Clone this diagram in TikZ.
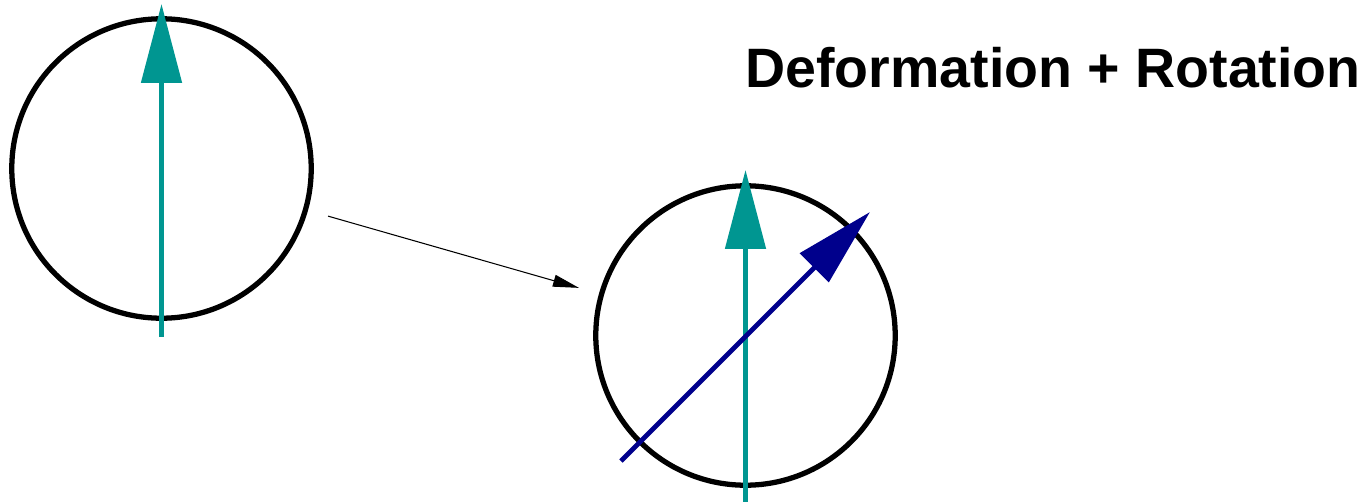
\documentclass[tikz,border=0pt]{standalone}
\usepackage{fontspec}
\setmainfont{Liberation Sans}
\usepackage{tikz}
\usetikzlibrary{arrows.meta,calc}
\definecolor{axisteal}{RGB}{0,150,145}
\definecolor{axisblue}{RGB}{0,0,140}

\begin{document}
\begin{tikzpicture}[x=0.02cm,y=-0.02cm,
  body/.style={circle,draw=black,line width=3pt,minimum size=5.99cm,
               inner sep=0pt,outer sep=0pt},
  vec/.style={line width=2.8pt,-{Triangle[length=1.58cm,width=0.8cm]}},
  arr/.style={-{Triangle[length=0.52cm,width=0.24cm]},line width=0.6pt,
              shorten <=0.47cm,shorten >=0.47cm}
]
\useasboundingbox (0,0) rectangle (1363,501);
\node[body] (before) at (161.5,168.5) {};
\node[body] (after) at (745.5,335.5) {};
\node[font=\fontsize{31.6}{38}\selectfont\bfseries] (title) at (1053,68) {Deformation + Rotation};
% original axis
\draw[vec,axisteal] ($(before.center)+(0,168)$) -- ($(before.center)+(0,-164.5)$);
% deformed body: old axis and rotated axis
\draw[vec,axisteal] ($(after.center)+(0,175)$) -- ($(after.center)+(0,-165.5)$);
\draw[vec,axisblue] ($(after.center)+(-124.5,125.5)$) -- ($(after.center)+(124.5,-123.5)$);
\draw[arr] (before) -- (after);
\end{tikzpicture}
\end{document}
